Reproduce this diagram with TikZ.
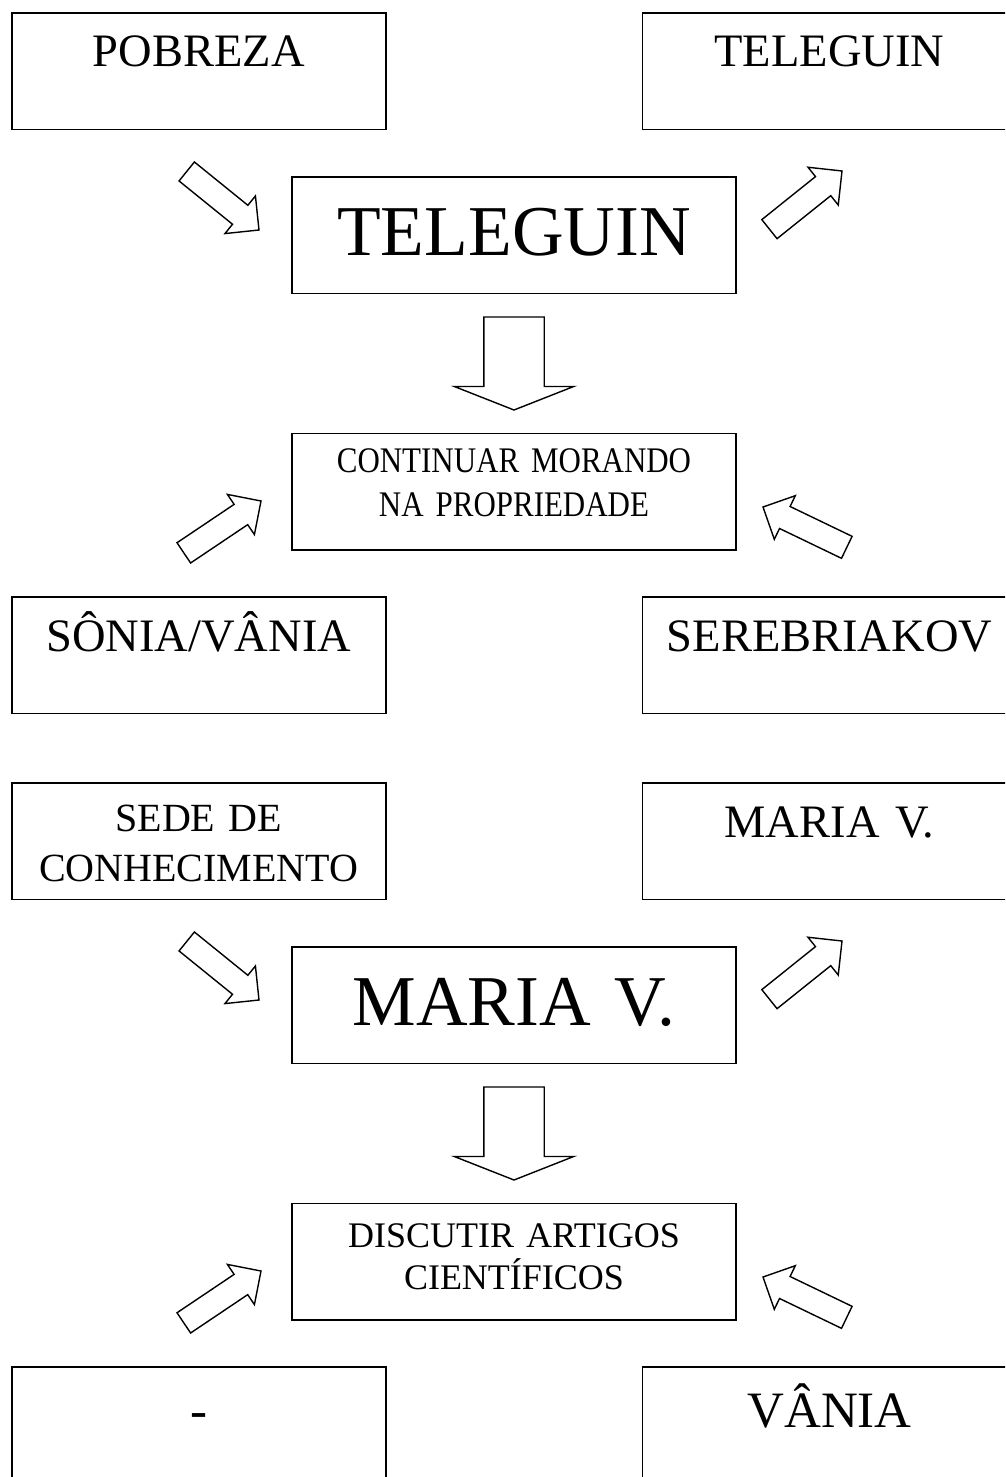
\documentclass[tikz,border=0pt]{standalone}
\usepackage{fontspec}
\setmainfont{Liberation Serif}
\newfontfamily\narrowserif[FakeStretch=0.86]{Liberation Serif}
\usetikzlibrary{shapes.arrows}

\begin{document}
\begin{tikzpicture}[x=1pt, y=-1pt,
  box/.style={draw, line width=1.8pt, inner sep=0pt, outer sep=0pt, align=center, text width=374pt},
  sidebox/.style={box, text height=54pt, text depth=62.5pt, font=\fontsize{46.5}{52}\selectfont},
  bigbox/.style={box, text width=444pt, text height=78pt, text depth=38.5pt, font=\fontsize{71.5}{80}\selectfont},
  goalbox/.style={box, text width=444pt},
  blockarrow/.style={single arrow, draw, fill=white, line width=1.4pt, inner xsep=0pt, inner ysep=11.5pt, outer sep=0pt,
    minimum height=93pt, single arrow head extend=12pt, single arrow tip angle=90, anchor=tip},
  downarrow/.style={blockarrow, inner ysep=29.5pt, single arrow head extend=29.5pt, single arrow tip angle=137, rotate=-90}]
\def\dy{770}
\def\lx{198.75}
\def\rx{829.5}
\def\cx{514}
\useasboundingbox (0,0) rectangle (1005,1477);
\clip (0,0) rectangle (1005,1477);

% first part
\node[sidebox] (pobreza) at (\lx, 71.25) {POBREZA};
\node[sidebox] (teleguinR) at (\rx, 71.25) {TELEGUIN};
\node[bigbox] (teleguin) at (\cx, 235.25) {TELEGUIN};
\node[goalbox, text height=39pt, text depth=77.5pt, font=\narrowserif\fontsize{36}{44}\selectfont] (continuar) at (\cx, 491.75) {CONTINUAR MORANDO\\NA PROPRIEDADE};
\node[sidebox] (sonia) at (\lx, 655.25) {SÔNIA/VÂNIA};
\node[sidebox] (serebriakov) at (\rx, 655.25) {SEREBRIAKOV};

\node[blockarrow, rotate=-39] (pobArrow) at (259, 230) {};
\node[blockarrow, rotate=38.7] (telArrow) at (842, 171) {};
\node[downarrow] (downA) at (\cx, 410) {};
\node[blockarrow, rotate=33.9] (sonArrow) at (261, 501) {};
\node[blockarrow, rotate=154.3] (serArrow) at (763, 507) {};

% second part
\node[box, text height=48pt, text depth=68.5pt, font=\fontsize{40}{50}\selectfont] (sede) at (\lx, 71.25 + \dy) {SEDE DE\\CONHECIMENTO};
\node[sidebox] (mariaR) at (\rx, 71.25 + \dy) {MARIA V.};
\node[bigbox] (maria) at (\cx, 235.25 + \dy) {MARIA V.};
\node[goalbox, text height=44pt, text depth=72.5pt, font=\fontsize{36}{42}\selectfont] (discutir) at (\cx, 491.75 + \dy) {DISCUTIR ARTIGOS\\CIENTÍFICOS};
\node[sidebox, text height=60pt, text depth=56.5pt, font=\fontsize{51}{56}\selectfont] (hifen) at (\lx, 655.25 + \dy) {-};
\node[sidebox, text height=60pt, text depth=56.5pt, font=\fontsize{51}{56}\selectfont] (vania) at (\rx, 655.25 + \dy) {VÂNIA};

\node[blockarrow, rotate=-39] (sedeArrow) at (259, 230 + \dy) {};
\node[blockarrow, rotate=38.7] (mariaArrow) at (842, 171 + \dy) {};
\node[downarrow] (downB) at (\cx, 410 + \dy) {};
\node[blockarrow, rotate=33.9] (hifenArrow) at (261, 501 + \dy) {};
\node[blockarrow, rotate=154.3] (vaniaArrow) at (763, 507 + \dy) {};
\end{tikzpicture}
\end{document}
